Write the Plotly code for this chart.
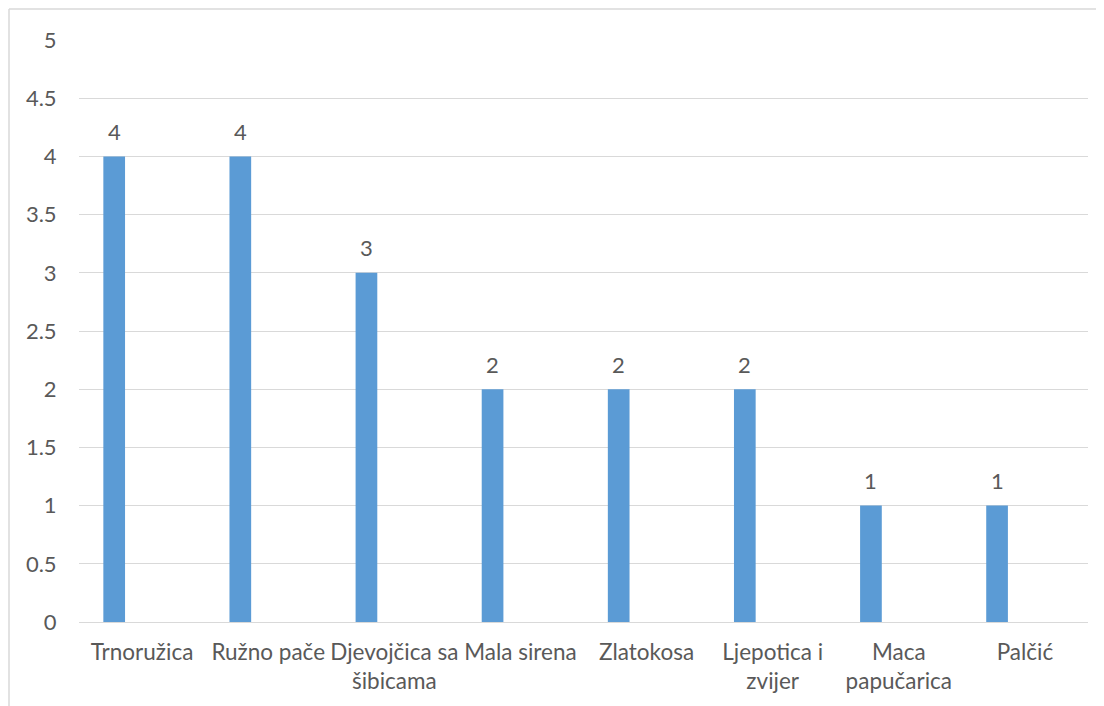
import plotly.graph_objects as go

categories = ["Trnoružica", "Ružno pače", "Djevojčica sa<br>šibicama", "Mala sirena",
              "Zlatokosa", "Ljepotica i<br>zvijer", "Maca<br>papučarica", "Palčić"]
values = [4, 4, 3, 2, 2, 2, 1, 1]
y_ticks = [0, 0.5, 1, 1.5, 2, 2.5, 3, 3.5, 4, 4.5, 5]
y_tick_labels = ["0", "0.5", "1", "1.5", "2", "2.5", "3", "3.5", "4", "4.5", "5"]

FONT = "Lato"
TXT = "#595959"
GRID = "#d9d9d9"
BAR_W = 0.172
BAR_OFF = -0.307

fig = go.Figure()
fig.add_trace(go.Bar(
    x=list(range(len(categories))), y=values,
    width=BAR_W, offset=BAR_OFF,
    marker=dict(color="#5B9BD5", line=dict(width=0)),
    hoverinfo="skip",
))

annotations = []
for i, v in enumerate(values):
    annotations.append(dict(
        x=i + BAR_OFF + BAR_W / 2, y=v, xref="x", yref="y",
        text=str(v), showarrow=False, yanchor="middle", yshift=25,
        font=dict(family=FONT, size=22, color=TXT),
    ))

# page body has an 8px margin, so figure coordinates are shifted by 8px
OFF = 8
W, H = 1104, 706
L, R, T, B = 79 - OFF, W - (1088 - OFF), 40 - OFF, H - (622 - OFF)
pw, ph = W - L - R, H - T - B
bx = (9 - OFF - L) / pw
by = 1 + (T - (9 - OFF)) / ph

fig.update_layout(
    width=W, height=H,
    margin=dict(l=L, r=R, t=T, b=B),
    paper_bgcolor="white", plot_bgcolor="white",
    showlegend=False,
    annotations=annotations,
    xaxis=dict(
        tickmode="array", tickvals=list(range(len(categories))), ticktext=categories,
        range=[-0.5, len(categories) - 0.5],
        showgrid=False, showline=True, linecolor=GRID, linewidth=1,
        ticks="outside", ticklen=10, tickcolor="rgba(0,0,0,0)",
        tickfont=dict(family=FONT, size=22.5, color=TXT),
        fixedrange=True,
    ),
    yaxis=dict(
        range=[0, 5], tickmode="array", tickvals=y_ticks, ticktext=y_tick_labels,
        showgrid=True, gridcolor=GRID, gridwidth=1, zeroline=False,
        ticks="outside", ticklen=17, tickcolor="rgba(0,0,0,0)",
        tickfont=dict(family=FONT, size=22, color=TXT),
        fixedrange=True,
    ),
    shapes=[
        dict(type="line", xref="paper", yref="paper", x0=bx, x1=bx, y0=by, y1=-0.5,
             line=dict(color=GRID, width=1.5)),
        dict(type="line", xref="paper", yref="paper", x0=bx, x1=1.5, y0=by, y1=by,
             line=dict(color=GRID, width=1.5)),
    ],
)

fig.write_html("out.html")
